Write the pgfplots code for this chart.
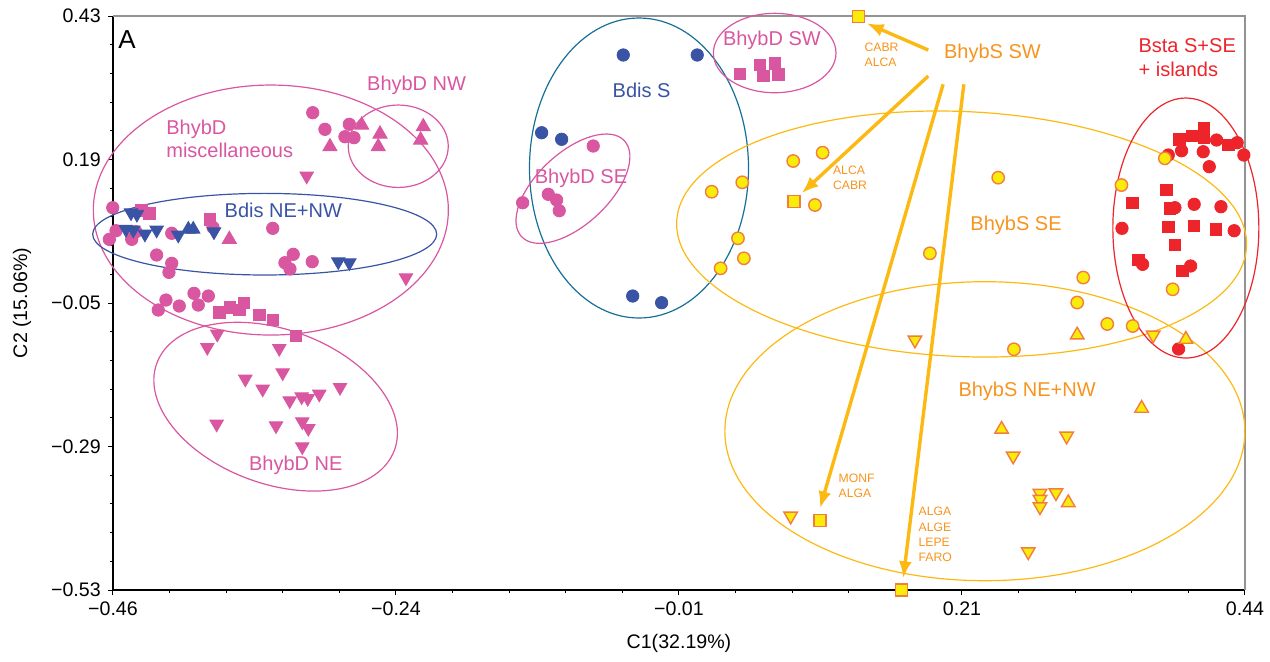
\documentclass[border=0pt]{standalone}
\usepackage{pgfplots}
\pgfplotsset{compat=1.18}
\usepackage{fontspec}
\setmainfont{Liberation Sans}
\usetikzlibrary{arrows.meta}
\definecolor{cpink}{RGB}{217,86,160}
\definecolor{cblue}{RGB}{57,84,165}
\definecolor{cteal}{RGB}{22,112,150}
\definecolor{cred}{RGB}{237,36,42}
\definecolor{cyel}{RGB}{250,236,10}
\definecolor{cedge}{RGB}{243,125,62}
\definecolor{corange}{RGB}{247,148,29}
\definecolor{cgold}{RGB}{253,185,19}
\begin{document}
\begin{tikzpicture}
\useasboundingbox (-56.5pt,-35.5pt) rectangle (578.5pt,295pt);
\begin{axis}[
  width=566pt, height=287pt, scale only axis,
  xmin=-0.46, xmax=0.44, ymin=-0.53, ymax=0.43,
  axis x line*=bottom, axis y line*=left,
  axis line style={line width=0.6pt, black},
  xtick={-0.46,-0.235,-0.01,0.215,0.44},
  xticklabels={−0.46,−0.24,−0.01,0.21,0.44},
  ytick={-0.53,-0.29,-0.05,0.19,0.43},
  yticklabels={−0.53,−0.29,−0.05,0.19,0.43},
  minor x tick num=4, minor y tick num=4,
  tick align=outside,
  major tick length=2.6pt, minor tick length=1.6pt,
  tick style={black, line width=0.5pt},
  ticklabel style={font=\fontsize{9.8}{11}\selectfont},
  xlabel={C1(32.19\%)}, ylabel={C2 (15.06\%)},
  label style={font=\fontsize{9.8}{11}\selectfont},
  xlabel style={at={(axis description cs:0.5,-0.0923)}, anchor=center},
  ylabel style={at={(axis description cs:-0.0804,0.5)}, anchor=center},
  clip=false,
]
\draw[gray!85, line width=0.8pt] (rel axis cs:0,1) -- (rel axis cs:1,1) -- (rel axis cs:1,0);

% BhybD pink
\addplot[only marks, mark=*, mark size=3.1pt, mark options={fill=cpink, draw=cpink}] coordinates {
(-0.3012,0.2683) (-0.2915,0.2405) (-0.2721,0.2489) (-0.2756,0.2281) (-0.2684,0.2265)
(-0.4602,0.1094) (-0.4576,0.0709) (-0.4629,0.0565) (-0.4451,0.0565) (-0.4417,0.0692)
(-0.4133,0.0666) (-0.4253,0.0303) (-0.4133,0.0164) (-0.4155,0.0013) (-0.3330,0.0749)
(-0.3167,0.0314) (-0.3233,0.0174) (-0.3193,0.0069) (-0.3016,0.0191) (-0.3805,0.0766)
(-0.4179,-0.0450) (-0.4240,-0.0617) (-0.4073,-0.0550) (-0.3956,-0.0338) (-0.3922,-0.0534)
(-0.3842,-0.0383) (-0.0782,0.2126) (-0.1343,0.1177) (-0.1139,0.1318) (-0.1073,0.1223)
(-0.1052,0.1044)};
\addplot[only marks, mark=square*, mark size=2.9pt, mark options={fill=cpink, draw=cpink}] coordinates {
(-0.4372,0.1044) (-0.4311,0.1000) (-0.3829,0.0900) (-0.3755,-0.0662) (-0.3670,-0.0572)
(-0.3596,-0.0617) (-0.3559,-0.0495) (-0.3437,-0.0701) (-0.3330,-0.0784) (-0.3145,-0.1052)
(0.0385,0.3330) (0.0544,0.3480) (0.0570,0.3296) (0.0663,0.3509) (0.0689,0.3325)};
\addplot[only marks, mark=triangle*, mark size=4.1pt, mark options={fill=cpink, draw=cpink}] coordinates {
(-0.2623,0.2477) (-0.2477,0.2326) (-0.2491,0.2114) (-0.2133,0.2449) (-0.2154,0.2226)
(-0.2875,0.2114) (-0.3675,0.0565)};
\addplot[only marks, mark=triangle*, mark size=3.9pt, mark options={fill=cpink, draw=cpink, rotate=180}] coordinates {
(-0.3060,0.1624) (-0.2271,-0.0077) (-0.3771,-0.1019) (-0.3850,-0.1241) (-0.3278,-0.1258)
(-0.3251,-0.1666) (-0.3548,-0.1771) (-0.3410,-0.1938) (-0.3195,-0.2134) (-0.3100,-0.2067)
(-0.3052,-0.2094) (-0.2960,-0.2022) (-0.2795,-0.1910) (-0.3776,-0.2524) (-0.3304,-0.2552)
(-0.3095,-0.2485) (-0.3047,-0.2596) (-0.3095,-0.2903)};

% Bdis blue
\addplot[only marks, mark=*, mark size=3.1pt, mark options={fill=cblue, draw=cblue}] coordinates {
(-0.0543,0.3648) (0.0045,0.3648) (-0.1192,0.2348) (-0.1033,0.2238) (-0.0468,-0.0383) (-0.0238,-0.0495)};
\addplot[only marks, mark=triangle*, mark size=3.9pt, mark options={fill=cblue, draw=cblue, rotate=180}] coordinates {
(-0.4457,0.1010) (-0.4410,0.0985) (-0.4497,0.0733) (-0.4439,0.0721) (-0.4346,0.0654)
(-0.4253,0.0721) (-0.4081,0.0637) (-0.3797,0.0692) (-0.2809,0.0191) (-0.2721,0.0174)};
\addplot[only marks, mark=triangle*, mark size=3.9pt, mark options={fill=cblue, draw=cblue}] coordinates {
(-0.4001,0.0733) (-0.3962,0.0733)};

% Bsta red
\addplot[only marks, mark=*, mark size=3.1pt, mark options={fill=cred, draw=cred}] coordinates {
(0.3896,0.2047) (0.4068,0.2030) (0.4174,0.2226) (0.4338,0.2181) (0.4391,0.1975)
(0.4116,0.1780) (0.3790,0.1975) (0.3843,0.1094) (0.3996,0.1151) (0.4209,0.1111)
(0.3422,0.0749) (0.4314,0.0709) (0.3586,0.0147) (0.3968,0.0119) (0.3872,-0.1269)};
\addplot[only marks, mark=square*, mark size=2.9pt, mark options={fill=cred, draw=cred}] coordinates {
(0.3877,0.2238) (0.3984,0.2293) (0.4073,0.2422) (0.4073,0.2260) (0.4267,0.2142)
(0.3777,0.1390) (0.3507,0.1177) (0.3803,0.1084) (0.3790,0.0776) (0.3994,0.0788)
(0.4169,0.0733) (0.3843,0.0470) (0.3551,0.0219) (0.3904,0.0035)};

% BhybS yellow
\addplot[only marks, mark=*, mark size=3.1pt, mark options={fill=cyel, draw=cedge, line width=0.7pt}] coordinates {
(0.0160,0.1361) (0.0403,0.1519) (0.0808,0.1875) (0.1042,0.2014) (0.0981,0.1139)
(0.0369,0.0582) (0.0416,0.0248) (0.0231,0.0080) (0.2438,0.1596) (0.1895,0.0331)
(0.3763,0.1920) (0.3418,0.1473) (0.3114,-0.0074) (0.3066,-0.0492) (0.3825,-0.0271)
(0.3305,-0.0851) (0.3507,-0.0885) (0.2563,-0.1274)};
\addplot[only marks, mark=square*, mark size=3pt, mark options={fill=cyel, draw=cedge, line width=0.7pt}] coordinates {
(0.1325,0.4290) (0.0814,0.1194) (0.1021,-0.4141) (0.1670,-0.5300)};
\addplot[only marks, mark=triangle*, mark size=3.9pt, mark options={fill=cyel, draw=cedge, line width=0.7pt, rotate=180}] coordinates {
(0.1776,-0.1119) (0.3670,-0.1035) (0.2982,-0.2725) (0.2557,-0.3059) (0.2770,-0.3683)
(0.2770,-0.3783) (0.2770,-0.3907) (0.2897,-0.3673) (0.2677,-0.4660) (0.0788,-0.4063)};
\addplot[only marks, mark=triangle*, mark size=3.9pt, mark options={fill=cyel, draw=cedge, line width=0.7pt}] coordinates {
(0.3066,-0.1035) (0.3930,-0.1107) (0.3578,-0.2261) (0.2465,-0.2612) (0.2995,-0.3840)};

% ellipses
\draw[cpink, line width=0.6pt] (axis cs:-0.3345,0.1055) ellipse [x radius=88.75pt, y radius=62.5pt];
\draw[cpink, line width=0.6pt] (axis cs:-0.2332,0.2122) ellipse [x radius=25pt, y radius=20.6pt];
\draw[cblue, line width=0.6pt] (axis cs:-0.3394,0.0651) ellipse [x radius=86pt, y radius=20.4pt];
\draw[cpink, line width=0.6pt, rotate around={-20:(axis cs:-0.3307,-0.2234)}] (axis cs:-0.3307,-0.2234) ellipse [x radius=63.25pt, y radius=38.55pt];
\draw[cteal, line width=0.6pt] (axis cs:-0.0418,0.1758) ellipse [x radius=54.75pt, y radius=75pt];
\draw[cpink, line width=0.6pt, rotate around={43:(axis cs:-0.0943,0.1412)}] (axis cs:-0.0943,0.1412) ellipse [x radius=35.15pt, y radius=17.95pt];
\draw[cpink, line width=0.6pt] (axis cs:0.0661,0.3681) ellipse [x radius=30.65pt, y radius=19.85pt];
\draw[cgold, line width=0.6pt, rotate around={-2.5:(axis cs:0.2147,0.0654)}] (axis cs:0.2147,0.0654) ellipse [x radius=142.6pt, y radius=61.25pt];
\draw[cgold, line width=0.6pt] (axis cs:0.2332,-0.2644) ellipse [x radius=130pt, y radius=74.75pt];
\draw[cred, line width=0.6pt] (axis cs:0.3930,0.0754) ellipse [x radius=36.5pt, y radius=65pt];

% arrows
\draw[cgold, line width=1.7pt, -{Latex[length=8.5pt,width=6.5pt]}] (axis cs:0.1882,0.3731) -- (axis cs:0.1392,0.4178);
\draw[cgold, line width=1.7pt, -{Latex[length=8.5pt,width=6.5pt]}] (axis cs:0.1882,0.3296) -- (axis cs:0.0875,0.1335);
\draw[cgold, line width=1.7pt, -{Latex[length=8.5pt,width=6.5pt]}] (axis cs:0.2000,0.3158) -- (axis cs:0.1021,-0.3934);
\draw[cgold, line width=1.7pt, -{Latex[length=8.5pt,width=6.5pt]}] (axis cs:0.2165,0.3158) -- (axis cs:0.1683,-0.5104);

% labels
\node[font=\fontsize{13}{14}\selectfont] at (axis cs:-0.4489,0.3899) {A};
\node[text=cpink, font=\fontsize{10}{11.7}\selectfont] at (axis cs:-0.2186,0.3146) {BhybD NW};
\node[text=cpink, font=\fontsize{10}{11.7}\selectfont, align=left, anchor=west, inner sep=0pt] at (axis cs:-0.4179,0.2243) {BhybD\\miscellaneous};
\node[text=cblue, font=\fontsize{10}{11.7}\selectfont] at (axis cs:-0.3246,0.1055) {Bdis NE+NW};
\node[text=cpink, font=\fontsize{10}{11.7}\selectfont] at (axis cs:-0.3147,-0.3210) {BhybD NE};
\node[text=cblue, font=\fontsize{10}{11.7}\selectfont] at (axis cs:-0.0397,0.3062) {Bdis S};
\node[text=cpink, font=\fontsize{10}{11.7}\selectfont] at (axis cs:-0.0879,0.1586) {BhybD SE};
\node[text=cpink, font=\fontsize{10}{11.7}\selectfont] at (axis cs:0.0639,0.3899) {BhybD SW};
\node[text=corange, font=\fontsize{10}{11.7}\selectfont] at (axis cs:0.2392,0.3676) {BhybS SW};
\node[text=corange, font=\fontsize{6.1}{7.35}\selectfont, align=left, anchor=west, inner sep=0pt] at (axis cs:0.1373,0.3648) {CABR\\ALCA};
\node[text=corange, font=\fontsize{6.1}{7.35}\selectfont, align=left, anchor=west, inner sep=0pt] at (axis cs:0.1122,0.1594) {ALCA\\CABR};
\node[text=cred, font=\fontsize{10}{12}\selectfont, align=left, anchor=west, inner sep=0pt] at (axis cs:0.3551,0.3598) {Bsta S+SE\\+ islands};
\node[text=corange, font=\fontsize{10}{11.7}\selectfont] at (axis cs:0.2580,0.0793) {BhybS SE};
\node[text=corange, font=\fontsize{10}{11.7}\selectfont] at (axis cs:0.2668,-0.1984) {BhybS NE+NW};
\node[text=corange, font=\fontsize{6.1}{7.35}\selectfont, align=left, anchor=west, inner sep=0pt] at (axis cs:0.1166,-0.3561) {MONF\\ALGA};
\node[text=corange, font=\fontsize{6.1}{7.6}\selectfont, align=left, anchor=west, inner sep=0pt] at (axis cs:0.1802,-0.4372) {ALGA\\ALGE\\LEPE\\FARO};
\end{axis}
\end{tikzpicture}
\end{document}
